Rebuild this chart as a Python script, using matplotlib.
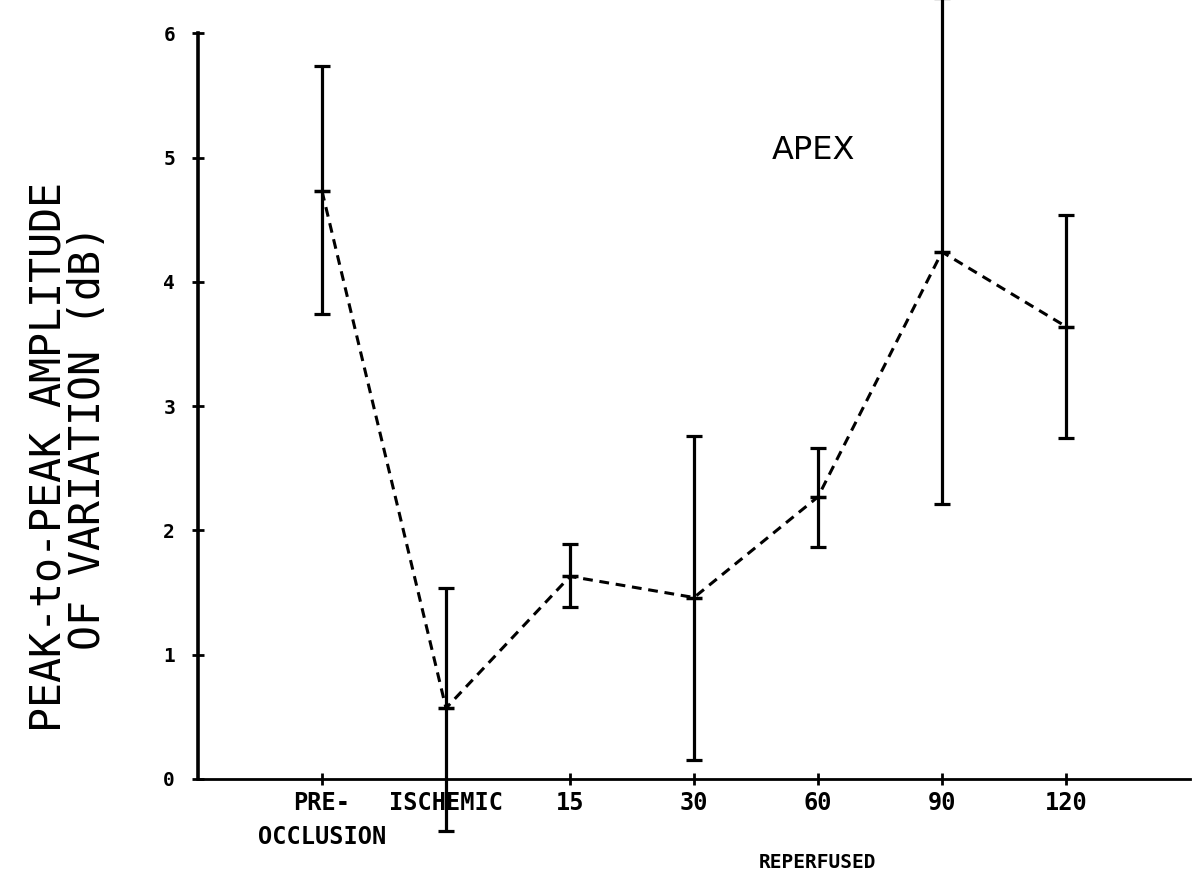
import matplotlib
matplotlib.use("Agg")
import matplotlib.pyplot as plt
import numpy as np

# values
groups = ["PRE-\nOCCLUSION", "ISCHEMIC", "15", "30", "60", "90", "120"]
means = [4.73, 0.57, 1.63, 1.46, 2.27, 4.24, 3.64]
lower = [3.74, -0.42, 1.38, 0.15, 1.87, 2.21, 2.74]
upper = [5.74, 1.54, 1.89, 2.76, 2.66, 6.28, 4.54]
yticks = [0, 1, 2, 3, 4, 5, 6]

x = np.arange(1, len(groups) + 1)
means = np.array(means)
err = [means - np.array(lower), np.array(upper) - means]

fig = plt.figure(figsize=(11.93, 8.76), dpi=100)
ax = fig.add_axes([198 / 1193, 1 - 779 / 876, (1190 - 198) / 1193, 779 / 876])

ax.errorbar(x, means, yerr=err, fmt="none", ecolor="black", elinewidth=2.3,
            capsize=6, capthick=2.3, clip_on=False, zorder=3)
ax.plot(x, means, color="black", linestyle=(0, (3.2, 2.2)), linewidth=2.2,
        marker="_", markersize=11, markeredgewidth=2.5, clip_on=False, zorder=4)

ax.set_xlim(0, 8)
ax.set_ylim(0, 779 / 124.3)

for s in ["top", "right"]:
    ax.spines[s].set_visible(False)
ax.spines["left"].set_bounds(0, 6)
ax.spines["left"].set_linewidth(2.6)
ax.spines["bottom"].set_linewidth(2.0)

mono = "DejaVu Sans Mono"
ax.set_yticks(yticks)
ax.set_yticklabels([str(v) for v in yticks], fontfamily=mono, fontweight="bold", fontsize=14)
ax.set_xticks(x)
ax.set_xticklabels(groups, fontfamily=mono, fontweight="bold", fontsize=17, linespacing=1.55)
ax.tick_params(axis="y", direction="inout", length=9, width=2, pad=12)
ax.tick_params(axis="x", direction="inout", length=9, width=2, pad=4)

ax.text(4.96, 5.06, "APEX", ha="center", va="center", fontsize=23, fontfamily="DejaVu Sans")
fig.text(818 / 1193, 1 - 862 / 876, "REPERFUSED", ha="center", va="center",
         fontfamily=mono, fontweight="bold", fontsize=14)

fig.text(49 / 1193, 1 - 457 / 876, "PEAK-to-PEAK AMPLITUDE", rotation=90,
         ha="center", va="center", fontfamily=mono, fontsize=30)
fig.text(88 / 1193, 1 - 437 / 876, "OF VARIATION (dB)", rotation=90,
         ha="center", va="center", fontfamily=mono, fontsize=30)

fig.savefig("out.png", dpi=100)
